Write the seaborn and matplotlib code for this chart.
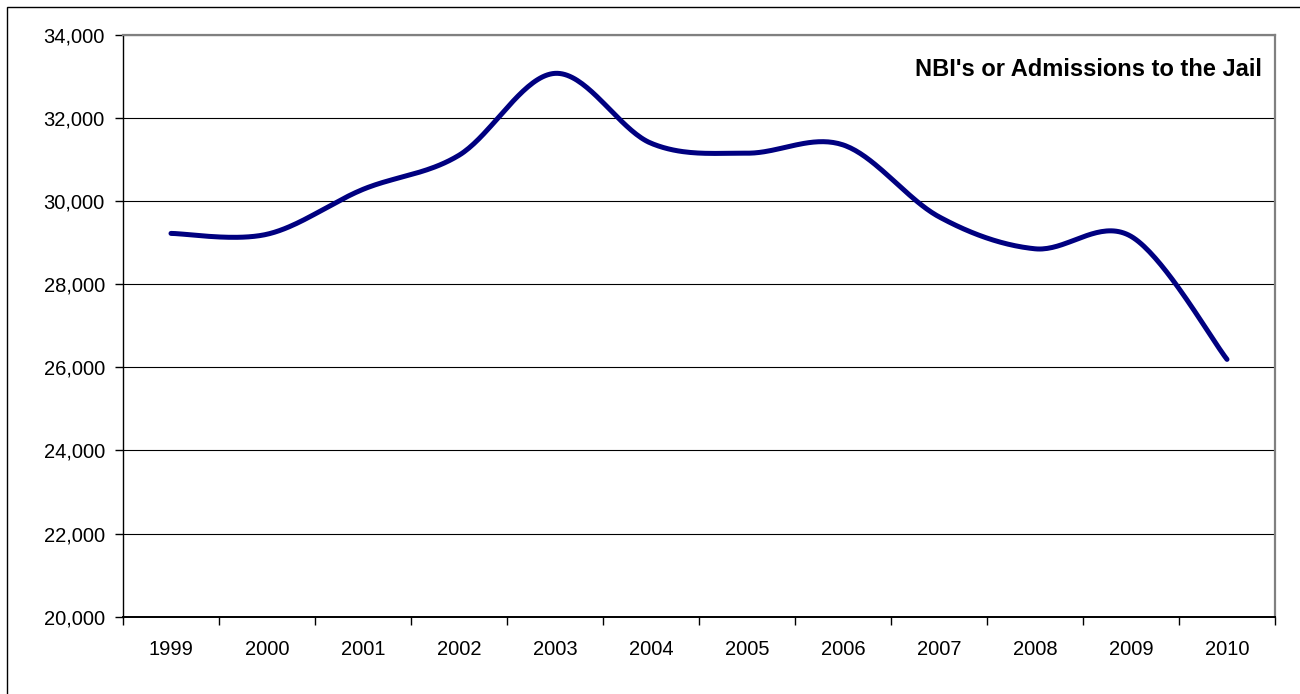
import numpy as np
import pandas as pd
import seaborn as sns
import matplotlib
matplotlib.use('Agg')
from matplotlib import pyplot as plt
from matplotlib.patches import Rectangle
from matplotlib.ticker import FuncFormatter, FixedLocator

# data
years = ['1999', '2000', '2001', '2002', '2003', '2004',
         '2005', '2006', '2007', '2008', '2009', '2010']
admissions = [29220, 29200, 30280, 31100, 33070, 31390,
              31150, 31350, 29620, 28850, 29150, 26190]
title = "NBI's or Admissions to the Jail"


def smooth(xs, ys, steps=40):
    # Excel-style smoothed line (Catmull-Rom through every point)
    p = np.column_stack([xs, ys]).astype(float)
    p = np.vstack([p[0], p, p[-1]])
    out = []
    for i in range(1, len(p) - 2):
        p0, p1, p2, p3 = p[i - 1], p[i], p[i + 1], p[i + 2]
        c1 = p1 + (p2 - p0) / 6
        c2 = p2 - (p3 - p1) / 6
        t = np.linspace(0, 1, steps)[:, None]
        seg = ((1 - t) ** 3 * p1 + 3 * (1 - t) ** 2 * t * c1
               + 3 * (1 - t) * t ** 2 * c2 + t ** 3 * p2)
        out.append(seg if i == 1 else seg[1:])
    out = np.vstack(out)
    return out[:, 0], out[:, 1]


sns.set_style('white')
plt.rcParams['font.family'] = ['Liberation Sans', 'DejaVu Sans']
plt.rcParams['text.color'] = 'black'
plt.rcParams['xtick.labelcolor'] = 'black'
plt.rcParams['ytick.labelcolor'] = 'black'

fig = plt.figure(figsize=(13, 6.94), dpi=100)
ax = fig.add_axes([123 / 1300, 1 - 616.7 / 694, 1152 / 1300, 582 / 694])

pos = np.arange(len(years))
sx, sy = smooth(pos, admissions)
df = pd.DataFrame({'x': sx, 'y': sy})
sns.lineplot(data=df, x='x', y='y', ax=ax, color='#000080', linewidth=3.6,
             sort=False, estimator=None, solid_capstyle='round')

ax.set_xlim(-0.5, len(years) - 0.5)
ax.set_ylim(20000, 34000)
ax.set_yticks(np.arange(20000, 34001, 2000))
ax.yaxis.set_major_formatter(FuncFormatter(lambda v, _: f'{int(v):,}'))
ax.yaxis.grid(True, color='black', linewidth=0.8)
ax.xaxis.grid(False)

ax.set_xticks(pos)
ax.set_xticklabels(years)
ax.xaxis.set_minor_locator(FixedLocator(np.arange(-0.5, len(years), 1.0)))
ax.tick_params(axis='x', which='major', length=0, pad=17, labelsize=14.5)
ax.tick_params(axis='x', which='minor', length=6, width=1, direction='out',
               color='black', bottom=True)
ax.tick_params(axis='y', length=6, width=1, direction='out', color='black',
               left=True, pad=7, labelsize=14.5)
ax.set_xlabel('')
ax.set_ylabel('')

for side in ['top', 'right']:
    ax.spines[side].set_color('#808080')
    ax.spines[side].set_linewidth(1.6)
ax.spines['left'].set_color('black')
ax.spines['left'].set_linewidth(1.0)
ax.spines['bottom'].set_color('black')
ax.spines['bottom'].set_linewidth(1.4)

ax.text(0.9885, 0.94, title, transform=ax.transAxes, ha='right', va='center',
        fontsize=17, fontweight='bold', color='black')

fig.patches.append(Rectangle((7 / 1300, -0.05), 1.2, 1.05 - 6.5 / 694,
                             transform=fig.transFigure, fill=False,
                             edgecolor='black', linewidth=1.0))

fig.savefig('out.png', dpi=100)
